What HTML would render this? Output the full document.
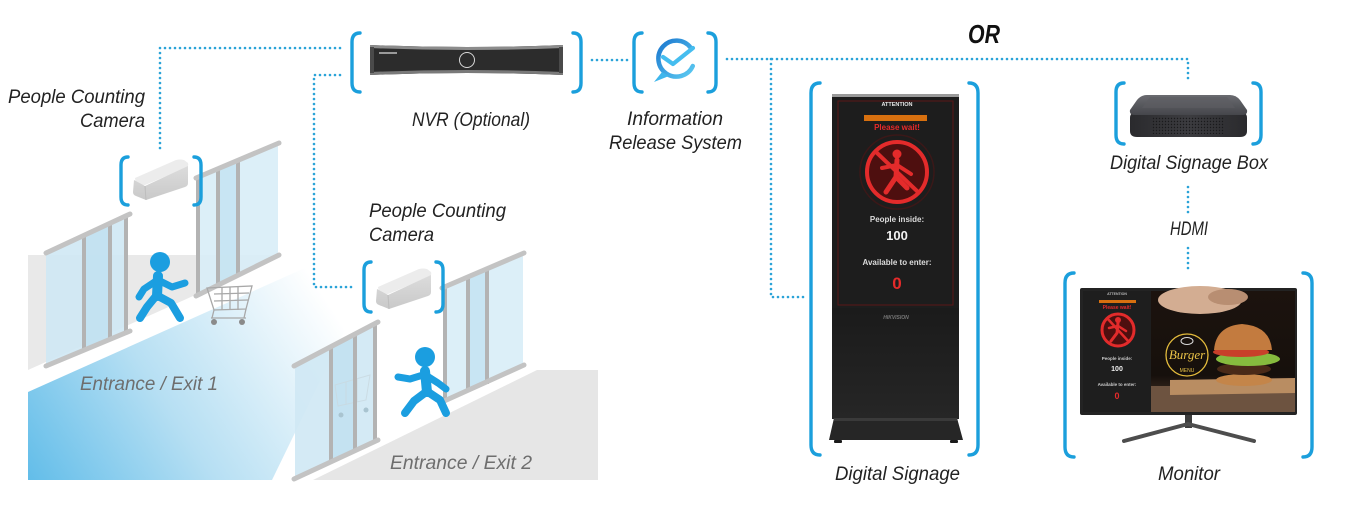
<!DOCTYPE html>
<html>
<head>
<meta charset="utf-8">
<style>
  html,body{margin:0;padding:0;background:#fff;}
  svg{display:block;}
  .lbl{font-family:"Liberation Sans",sans-serif;font-style:italic;font-size:19px;fill:#222;}
  .ent{font-family:"Liberation Sans",sans-serif;font-style:italic;font-size:19px;fill:#6e6e6e;}
  .br{fill:none;stroke:#1b9fdc;stroke-width:3.4;stroke-linecap:round;}
  .dot{fill:none;stroke:#2aa3d8;stroke-width:2.6;stroke-linecap:round;stroke-dasharray:0 5;}
  .rail{stroke:#c3c3c3;stroke-width:5;stroke-linecap:round;}
  .frm{stroke:#b3b3b3;stroke-width:4;}
  .pp{stroke:#1b9ee0;stroke-linecap:round;stroke-linejoin:round;fill:none;}
  .sw{font-family:"Liberation Sans",sans-serif;font-weight:bold;text-anchor:middle;}
</style>
</head>
<body>
<svg width="1357" height="515" viewBox="0 0 1357 515" xmlns="http://www.w3.org/2000/svg">
  <defs>
    <linearGradient id="blueFloor" x1="28" y1="480" x2="320" y2="290" gradientUnits="userSpaceOnUse">
      <stop offset="0" stop-color="#62bde9"/>
      <stop offset="0.45" stop-color="#b6dff3"/>
      <stop offset="1" stop-color="#ffffff"/>
    </linearGradient>
    <linearGradient id="dsBody" x1="0" y1="0" x2="0" y2="1">
      <stop offset="0" stop-color="#050505"/>
      <stop offset="1" stop-color="#262626"/>
    </linearGradient>
    <linearGradient id="ircGrad" x1="0" y1="0" x2="1" y2="1">
      <stop offset="0" stop-color="#1c78cf"/>
      <stop offset="1" stop-color="#5ccbf2"/>
    </linearGradient>
    <linearGradient id="dsbTop" x1="0" y1="0" x2="0" y2="1">
      <stop offset="0" stop-color="#6a6b70"/>
      <stop offset="1" stop-color="#45464b"/>
    </linearGradient>
    <linearGradient id="dsbSide" x1="0" y1="0" x2="1" y2="0">
      <stop offset="0" stop-color="#2a2a2d"/>
      <stop offset="0.5" stop-color="#3c3c40"/>
      <stop offset="1" stop-color="#2a2a2d"/>
    </linearGradient>
    <pattern id="grille" width="3" height="3" patternUnits="userSpaceOnUse">
      <circle cx="1.5" cy="1.5" r="0.7" fill="#1a1a1c"/>
    </pattern>
    <linearGradient id="photo" x1="0" y1="0" x2="0" y2="1">
      <stop offset="0" stop-color="#1c130e"/>
      <stop offset="0.7" stop-color="#16100c"/>
      <stop offset="1" stop-color="#5a4030"/>
    </linearGradient>
    <linearGradient id="camFront" x1="0" y1="0" x2="0" y2="1">
      <stop offset="0" stop-color="#dcdcdc"/>
      <stop offset="1" stop-color="#c9c9c9"/>
    </linearGradient>
  </defs>

  <!-- ===== LEFT SCENE ===== -->
  <polygon points="28,255 278,255 278,258 28,370" fill="#e9e9e9"/>
  <polygon points="28,392 345,250 345,330 272,480 28,480" fill="url(#blueFloor)"/>
  <polygon points="313,480 537,370 598,370 598,480" fill="#e6e6e6"/>

  <!-- Door 1 left -->
  <polygon points="46,252 128,213 128,332 46,366" fill="#cfe8f4" opacity="0.9"/>
  <polygon points="86,233 110,222 110,340 86,350" fill="#bfe0f0" opacity="0.8"/>
  <line class="frm" x1="84" y1="234" x2="84" y2="350"/>
  <line class="frm" x1="110" y1="222" x2="110" y2="340"/>
  <line class="frm" x1="126" y1="214" x2="126" y2="333"/>
  <line class="rail" x1="46" y1="253" x2="130" y2="214"/>
  <line class="rail" x1="46" y1="366" x2="130" y2="331"/>

  <!-- Door 1 right -->
  <polygon points="197,177 278,143 278,255 197,295" fill="#d8edf7" opacity="0.9"/>
  <polygon points="218,168 238,160 238,275 218,285" fill="#c3e2f1" opacity="0.8"/>
  <line class="frm" x1="198" y1="177" x2="198" y2="296"/>
  <line class="frm" x1="218" y1="168" x2="218" y2="286"/>
  <line class="frm" x1="238" y1="160" x2="238" y2="276"/>
  <line class="rail" x1="196" y1="178" x2="279" y2="143"/>
  <line class="rail" x1="196" y1="296" x2="279" y2="255"/>

  <!-- person 1 -->
  <circle cx="160" cy="262" r="10" fill="#1b9ee0"/>
  <line class="pp" x1="158" y1="276" x2="157" y2="296" stroke-width="10"/>
  <polyline class="pp" points="158,280 172,287 185,283" stroke-width="7"/>
  <polyline class="pp" points="156,281 144,289 139,297" stroke-width="7"/>
  <polyline class="pp" points="156,296 147,307 140,318" stroke-width="8"/>
  <polyline class="pp" points="158,296 171,303 180,318" stroke-width="8"/>

  <!-- cart -->
  <g stroke="#a8a8a8" stroke-width="1.3" fill="none">
    <polygon points="207,288 252,286 246,309 214,310"/>
    <line x1="214" y1="294" x2="249" y2="293"/>
    <line x1="214" y1="301" x2="248" y2="300"/>
    <line x1="222" y1="287" x2="222" y2="310"/>
    <line x1="230" y1="287" x2="230" y2="310"/>
    <line x1="238" y1="287" x2="238" y2="310"/>
    <line x1="214" y1="310" x2="212" y2="318"/>
    <line x1="246" y1="309" x2="244" y2="318"/>
    <line x1="211" y1="318" x2="246" y2="318"/>
  </g>
  <circle cx="214" cy="322" r="3" fill="#8a8a8a"/>
  <circle cx="242" cy="322" r="3" fill="#8a8a8a"/>

  <!-- camera 1 -->
  <path d="M135,178 L176,160 Q180,159 184,160 L188,163 Q189,166 186,168 L145,185 Q140,186 136,184 Z" fill="#ececec"/>
  <path d="M134,180 L145,186 L188,166 L188,183 Q188,186 185,187 L146,200 L136,196 Q133,195 133,192 Z" fill="url(#camFront)"/>
  <path d="M145,186 L146,200" stroke="#bdbdbd" stroke-width="1"/>

  <!-- Door 2 left -->
  <polygon points="295,365 377,322 377,440 295,478" fill="#cfe8f4" opacity="0.9"/>
  <polygon points="333,346 355,334 355,450 333,460" fill="#bfe0f0" opacity="0.8"/>
  <g stroke="#c9d9e0" stroke-width="1" fill="none" opacity="0.8">
    <polygon points="335,385 370,375 366,400 338,406"/>
    <line x1="346" y1="382" x2="346" y2="405"/>
    <line x1="357" y1="379" x2="357" y2="402"/>
  </g>
  <circle cx="341" cy="415" r="2.5" fill="#a9c4d0"/>
  <circle cx="366" cy="410" r="2.5" fill="#a9c4d0"/>
  <line class="frm" x1="331" y1="347" x2="331" y2="462"/>
  <line class="frm" x1="355" y1="334" x2="355" y2="451"/>
  <line class="frm" x1="375" y1="323" x2="375" y2="441"/>
  <line class="rail" x1="294" y1="366" x2="378" y2="322"/>
  <line class="rail" x1="294" y1="479" x2="378" y2="440"/>

  <!-- Door 2 right -->
  <polygon points="443,287 523,253 523,365 443,402" fill="#d8edf7" opacity="0.9"/>
  <polygon points="468,277 487,269 487,384 468,392" fill="#c3e2f1" opacity="0.8"/>
  <line class="frm" x1="445" y1="287" x2="445" y2="402"/>
  <line class="frm" x1="468" y1="277" x2="468" y2="392"/>
  <line class="frm" x1="487" y1="269" x2="487" y2="384"/>
  <line class="rail" x1="442" y1="288" x2="524" y2="253"/>
  <line class="rail" x1="442" y1="402" x2="524" y2="365"/>

  <!-- person 2 -->
  <circle cx="425" cy="357" r="10" fill="#1b9ee0"/>
  <line class="pp" x1="425" y1="371" x2="427" y2="392" stroke-width="10"/>
  <polyline class="pp" points="423,375 410,379 398,377" stroke-width="7"/>
  <polyline class="pp" points="427,376 438,383 446,389" stroke-width="7"/>
  <polyline class="pp" points="426,392 414,401 405,413" stroke-width="8"/>
  <polyline class="pp" points="428,392 440,400 446,413" stroke-width="8"/>

  <!-- camera 2 -->
  <path d="M378,287 L419,269 Q423,268 427,269 L431,272 Q432,275 429,277 L388,294 Q383,295 379,293 Z" fill="#ececec"/>
  <path d="M377,289 L388,295 L431,275 L431,292 Q431,295 428,296 L389,309 L379,305 Q376,304 376,301 Z" fill="url(#camFront)"/>
  <path d="M388,295 L389,309" stroke="#bdbdbd" stroke-width="1"/>

  <!-- Entrance labels -->
  <text class="ent" x="80" y="390" textLength="138" lengthAdjust="spacingAndGlyphs">Entrance / Exit 1</text>
  <text class="ent" x="390" y="469" textLength="142" lengthAdjust="spacingAndGlyphs">Entrance / Exit 2</text>

  <!-- ===== DOTTED CONNECTORS ===== -->
  <path class="dot" d="M340,48 H160 V153"/>
  <path class="dot" d="M340,75 H314 V287 H353"/>
  <path class="dot" d="M592,60 H629"/>
  <path class="dot" d="M727,59 H1188 V82"/>
  <path class="dot" d="M771,59 V297 H807"/>
  <path class="dot" d="M1188,187 V214"/>
  <path class="dot" d="M1188,248 V272"/>

  <!-- ===== BRACKETS ===== -->
  <path class="br" d="M128,157 Q121,157 121,165 V197 Q121,205 128,205"/>
  <path class="br" d="M194,157 Q201,157 201,165 V197 Q201,205 194,205"/>
  <path class="br" d="M371,262 Q364,262 364,270 V304 Q364,312 371,312"/>
  <path class="br" d="M436,262 Q443,262 443,270 V304 Q443,312 436,312"/>
  <path class="br" d="M360,33 Q352,33 352,42 V83 Q352,92 360,92"/>
  <path class="br" d="M573,33 Q581,33 581,42 V83 Q581,92 573,92"/>
  <path class="br" d="M642,33 Q634,33 634,42 V83 Q634,92 642,92"/>
  <path class="br" d="M708,33 Q716,33 716,42 V83 Q716,92 708,92"/>
  <path class="br" d="M820,83 Q811,83 811,93 V445 Q811,455 820,455"/>
  <path class="br" d="M969,83 Q978,83 978,93 V445 Q978,455 969,455"/>
  <path class="br" d="M1124,83 Q1116,83 1116,92 V135 Q1116,144 1124,144"/>
  <path class="br" d="M1253,83 Q1261,83 1261,92 V135 Q1261,144 1253,144"/>
  <path class="br" d="M1074,273 Q1065,273 1065,283 V447 Q1065,457 1074,457"/>
  <path class="br" d="M1303,273 Q1312,273 1312,283 V447 Q1312,457 1303,457"/>

  <!-- ===== NVR ===== -->
  <path d="M370,45 Q467,49 563,45 V75 Q467,71 370,75 Z" fill="#2c2c2c"/>
  <path d="M370,45 Q467,49 563,45 V48 Q467,52 370,48 Z" fill="#8c8c8c"/>
  <path d="M370,72 Q467,68 563,72 V75 Q467,71 370,75 Z" fill="#7a7a7a"/>
  <rect x="370" y="47" width="4" height="26" fill="#4a4a4a"/>
  <rect x="559" y="47" width="4" height="26" fill="#4a4a4a"/>
  <circle cx="467" cy="60" r="7.5" fill="none" stroke="#d8d8d8" stroke-width="1"/>
  <rect x="379" y="52" width="18" height="2" fill="#9a9a9a"/>

  <!-- ===== IRS icon ===== -->
  <path d="M690.7,47.7 A18,18 0 1 0 692.8,66" fill="none" stroke="url(#ircGrad)" stroke-width="4.5" stroke-linecap="round"/>
  <polygon points="662,72 654,82 669,76" fill="#3fb6ec"/>
  <polyline points="663,57 673,64 693,48" fill="none" stroke="#45bdef" stroke-width="4.2" stroke-linecap="round" stroke-linejoin="round"/>

  <!-- ===== DIGITAL SIGNAGE ===== -->
  <rect x="832" y="95" width="127" height="324" fill="url(#dsBody)"/>
  <rect x="832" y="95" width="127" height="213" fill="#1d1d1d"/>
  <rect x="832" y="94" width="127" height="3" fill="#9a9a9a"/>
  <rect x="838" y="101" width="115" height="204" fill="none" stroke="#5a1717" stroke-width="1"/>
  <text class="sw" x="897" y="106" font-size="5.5" fill="#e8e8e8">ATTENTION</text>
  <rect x="864" y="115" width="63" height="6" fill="#d8700f"/>
  <text class="sw" x="897" y="130" font-size="8" fill="#e52a2a">Please wait!</text>
  <circle cx="897" cy="172" r="37" fill="none" stroke="#3a1818" stroke-width="1.5"/>
  <circle cx="897" cy="172" r="30" fill="#4e0f0f" stroke="#e32b2b" stroke-width="4"/>
  <line x1="876" y1="152" x2="918" y2="192" stroke="#e32b2b" stroke-width="4"/>
  <circle cx="897" cy="154" r="4.5" fill="#e32b2b"/>
  <polyline points="897,160 896,177 886,192" fill="none" stroke="#e32b2b" stroke-width="5" stroke-linecap="round"/>
  <polyline points="882,168 897,165 911,174" fill="none" stroke="#e32b2b" stroke-width="4" stroke-linecap="round"/>
  <polyline points="896,177 907,188" fill="none" stroke="#e32b2b" stroke-width="5" stroke-linecap="round"/>
  <text class="sw" x="897" y="222" font-size="8" fill="#dcdcdc">People inside:</text>
  <text class="sw" x="897" y="240" font-size="13" fill="#f2f2f2">100</text>
  <text class="sw" x="897" y="265" font-size="8" fill="#dcdcdc">Available to enter:</text>
  <text class="sw" x="897" y="289" font-size="17" fill="#e52a2a">0</text>
  <text class="sw" x="896" y="319" font-size="5" fill="#777" font-style="italic">HIKVISION</text>
  <polygon points="834,418 957,418 963,440 829,440" fill="#262626"/>
  <rect x="834" y="418" width="123" height="3" fill="#3a3a3a"/>
  <rect x="834" y="440" width="8" height="3" rx="1" fill="#1a1a1a"/>
  <rect x="950" y="440" width="8" height="3" rx="1" fill="#1a1a1a"/>

  <!-- ===== DIGITAL SIGNAGE BOX ===== -->
  <path d="M1134,113 H1243 Q1247,113 1247,118 V131 Q1247,137 1240,137 H1137 Q1130,137 1130,131 V118 Q1130,113 1134,113 Z" fill="url(#dsbSide)"/>
  <rect x="1152" y="117" width="72" height="17" fill="url(#grille)"/>
  <path d="M1147,95 H1230 Q1236,95 1240,100 L1247,110 Q1248,115 1242,115 H1135 Q1129,115 1130,110 L1137,100 Q1141,95 1147,95 Z" fill="url(#dsbTop)"/>
  <path d="M1150,97 H1227 L1235,108 H1142 Z" fill="#5d5e63" opacity="0.6"/>

  <!-- ===== MONITOR ===== -->
  <rect x="1185" y="413" width="7" height="15" fill="#3d3d3d"/>
  <polyline points="1124,441 1188,424 1254,441" fill="none" stroke="#4d4d4d" stroke-width="4" stroke-linecap="round" stroke-linejoin="round"/>
  <rect x="1080" y="288" width="217" height="127" rx="2" fill="#232323"/>
  <rect x="1083" y="291" width="68" height="121" fill="#1e1e1e"/>
  <text class="sw" x="1117" y="295" font-size="3.5" fill="#bbb">ATTENTION</text>
  <rect x="1099" y="300" width="37" height="3" fill="#d8700f"/>
  <text class="sw" x="1117" y="309" font-size="5" fill="#e52a2a">Please wait!</text>
  <circle cx="1118" cy="330" r="16" fill="#4e0f0f" stroke="#e32b2b" stroke-width="3"/>
  <line x1="1107" y1="318" x2="1129" y2="342" stroke="#e32b2b" stroke-width="2.5"/>
  <circle cx="1118" cy="320" r="3" fill="#e32b2b"/>
  <polyline points="1118,323 1117,333 1111,341" fill="none" stroke="#e32b2b" stroke-width="3" stroke-linecap="round"/>
  <polyline points="1109,328 1118,326 1126,331" fill="none" stroke="#e32b2b" stroke-width="2.5" stroke-linecap="round"/>
  <text class="sw" x="1117" y="360" font-size="4.5" fill="#ccc">People inside:</text>
  <text class="sw" x="1117" y="371" font-size="7" fill="#eee">100</text>
  <text class="sw" x="1117" y="386" font-size="4.5" fill="#ccc">Available to enter:</text>
  <text class="sw" x="1117" y="399" font-size="9" fill="#e52a2a">0</text>
  <rect x="1151" y="291" width="144" height="121" fill="url(#photo)"/>
  <ellipse cx="1200" cy="300" rx="42" ry="14" fill="#d3ad92"/>
  <ellipse cx="1228" cy="297" rx="20" ry="8" fill="#b88e72"/>
  <rect x="1151" y="386" width="144" height="26" fill="#6d5340"/>
  <polygon points="1170,380 1295,378 1295,393 1170,395" fill="#b98d62"/>
  <ellipse cx="1244" cy="380" rx="28" ry="6" fill="#c48549"/>
  <ellipse cx="1244" cy="369" rx="27" ry="6" fill="#4a2a18"/>
  <ellipse cx="1248" cy="359" rx="32" ry="7" fill="#86bb3e"/>
  <ellipse cx="1241" cy="352" rx="28" ry="5" fill="#c8402a"/>
  <path d="M1214,350 Q1216,326 1242,324 Q1270,326 1272,350 Z" fill="#c37b3f"/>
  <circle cx="1187" cy="355" r="21" fill="none" stroke="#e3bb3c" stroke-width="1.3"/>
  <text x="1187" y="359" font-family="Liberation Serif, serif" font-style="italic" font-size="13" fill="#e9c247" text-anchor="middle">Burger</text>
  <text x="1187" y="372" font-family="Liberation Sans, sans-serif" font-size="5" fill="#e9c247" text-anchor="middle">MENU</text>
  <ellipse cx="1187" cy="341" rx="6" ry="3.5" fill="none" stroke="#ddd" stroke-width="1"/>

  <!-- ===== LABELS ===== -->
  <text class="lbl" x="8" y="103" textLength="137" lengthAdjust="spacingAndGlyphs">People Counting</text>
  <text class="lbl" x="80" y="127" textLength="65" lengthAdjust="spacingAndGlyphs">Camera</text>
  <text class="lbl" x="369" y="217" textLength="137" lengthAdjust="spacingAndGlyphs">People Counting</text>
  <text class="lbl" x="369" y="241" textLength="65" lengthAdjust="spacingAndGlyphs">Camera</text>
  <text class="lbl" x="412" y="126" textLength="118" lengthAdjust="spacingAndGlyphs">NVR (Optional)</text>
  <text class="lbl" x="627" y="125" textLength="96" lengthAdjust="spacingAndGlyphs">Information</text>
  <text class="lbl" x="609" y="149" textLength="133" lengthAdjust="spacingAndGlyphs">Release System</text>
  <text x="968" y="43" font-family="Liberation Sans, sans-serif" font-style="italic" font-weight="bold" font-size="26" fill="#111" textLength="32" lengthAdjust="spacingAndGlyphs">OR</text>
  <text class="lbl" x="1110" y="169" textLength="158" lengthAdjust="spacingAndGlyphs">Digital Signage Box</text>
  <text class="lbl" x="1170" y="235" textLength="38" lengthAdjust="spacingAndGlyphs" font-size="17">HDMI</text>
  <text class="lbl" x="835" y="480" textLength="125" lengthAdjust="spacingAndGlyphs">Digital Signage</text>
  <text class="lbl" x="1158" y="480" textLength="62" lengthAdjust="spacingAndGlyphs">Monitor</text>
</svg>
</body>
</html>
